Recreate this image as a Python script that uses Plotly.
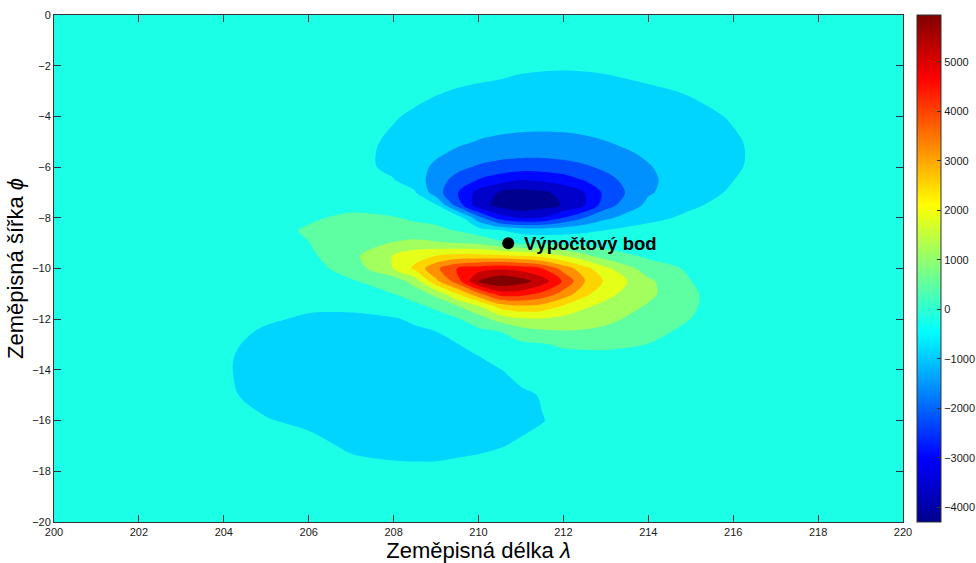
import numpy as np
import plotly.graph_objects as go

# ---------------- data ----------------
lon = [200, 202, 204, 205, 206, 207, 208, 208.5, 209, 209.5, 210, 210.5,
       211, 211.5, 212, 212.5, 213, 214, 215, 216, 217, 218, 220]
lat = [0, -1, -2, -3, -4, -5, -5.5, -6, -6.5, -7, -7.5, -8, -8.5, -9, -9.5,
       -10, -10.5, -11, -11.5, -12, -12.5, -13, -13.5, -14, -15, -16, -17, -18, -20]

# one list per longitude column, values listed along `lat`
z_by_lon = [
    [-3, -4, -5, -7, -8, -9, -9, -9, -9, -8, -8, -8, -8, -8, -10, -12, -15, -20, -25, -30, -35, -40, -42, -44, -43, -38, -30, -22, -8],          # 200
    [-7, -10, -15, -19, -22, -25, -25, -25, -24, -23, -21, -20, -20, -20, -25, -30, -40, -60, -80, -100, -120, -140, -150, -155, -150, -130, -100, -70, -25],  # 202
    [-16, -25, -36, -49, -61, -68, -69, -68, -64, -59, -53, -45, -40, -40, -50, -70, -110, -170, -220, -270, -320, -370, -400, -404, -380, -300, -220, -150, -50],  # 204
    [-23, -37, -56, -79, -100, -113, -115, -114, -106, -97, -86, -70, -50, -40, -50, -80, -164, -222, -299, -404, -514, -588, -633, -650, -599, -430, -236, -129, -40],  # 205
    [-32, -53, -85, -124, -164, -188, -191, -186, -174, -157, -137, 100, 260, 170, 60, -40, -140, -260, -391, -516, -615, -687, -732, -750, -704, -548, -318, -175, -50],  # 206
    [-43, -76, -125, -193, -265, -314, -319, -308, -285, -200, 0, 310, 480, 620, 640, 420, 130, -130, -385, -536, -632, -706, -759, -790, -788, -700, -525, -300, -60],  # 207
    [-56, -103, -179, -292, -426, -526, -557, -553, -440, -300, -60, 215, 450, 860, 1500, 1480, 450, 180, -190, -502, -602, -682, -741, -780, -796, -731, -584, -361, -100],  # 208
    [-63, -117, -210, -354, -514, -672, -762, -843, -750, -400, -150, 110, 357, 1026, 1850, 2250, 1100, 470, 24, -376, -545, -637, -708, -757, -789, -735, -594, -370, -100],  # 208.5
    [-70, -133, -242, -424, -596, -831, -1014, -1222, -1428, -1450, -380, 0, 330, 900, 2120, 3250, 2600, 1000, 300, -117, -468, -571, -652, -710, -760, -720, -589, -370, -100],  # 209
    [-77, -147, -277, -481, -673, -993, -1237, -1557, -1963, -2340, -2000, -70, 150, 830, 2290, 4050, 3700, 2110, 760, 120, -200, -478, -576, -648, -718, -688, -558, -338, -90],  # 209.5
    [-83, -161, -310, -521, -741, -1128, -1407, -1828, -2405, -3250, -3400, -1500, -170, 720, 2320, 4350, 5400, 3227, 1374, 505, 24, -242, -478, -571, -672, -658, -528, -308, -80],  # 210
    [-87, -173, -340, -553, -793, -1211, -1531, -1997, -2720, -3718, -3850, -2700, -430, 344, 2234, 4562, 5880, 4349, 2320, 1039, 170, -59, -279, -476, -604, -604, -476, -265, -70],  # 210.5
    [-91, -182, -400, -575, -829, -1259, -1597, -2087, -3000, -3890, -4122, -3100, -670, 118, 2110, 4422, 5600, 4319, 2608, 1374, 505, 71, -117, -305, -534, -548, -405, -222, -60],  # 211
    [-93, -188, -418, -588, -846, -1270, -1603, -2082, -2891, -3769, -3919, -3000, -726, 42, 1893, 4040, 5000, 3868, 2491, 1395, 697, 130, -60, -200, -430, -470, -350, -200, -55],  # 211.5
    [-94, -190, -425, -591, -844, -1246, -1554, -1987, -2675, -3500, -3620, -2360, -660, -19, 1470, 3132, 3950, 3131, 2014, 1269, 776, 283, -40, -200, -340, -360, -280, -180, -50],  # 212
    [-93, -188, -418, -584, -824, -1189, -1459, -1823, -2330, -3017, -3060, -1740, -563, -61, 985, 2350, 2800, 2300, 1546, 1127, 750, 373, -80, -180, -260, -270, -220, -150, -40],  # 212.5
    [-91, -182, -400, -568, -789, -1107, -1329, -1609, -1935, -2203, -1997, -1222, -440, -100, 505, 1600, 2000, 1650, 1283, 978, 672, 367, -60, -150, -200, -200, -160, -110, -30],  # 213
    [-83, -161, -310, -513, -687, -898, -1017, -1137, -1214, -1174, -932, -559, -320, -126, 68, 504, 950, 980, 750, 561, 373, 170, -40, -100, -130, -130, -100, -70, -20],  # 214
    [-70, -133, -242, -424, -562, -684, -731, -753, -732, -650, -508, -380, -260, -150, -30, 90, 190, 250, 240, 180, 20, -40, -60, -70, -80, -80, -60, -40, -10],  # 215
    [-56, -103, -179, -292, -426, -499, -510, -501, -462, -399, -332, -270, -220, -170, -130, -100, -90, -80, -80, -80, -80, -70, -60, -55, -50, -45, -35, -25, -10],  # 216
    [-43, -76, -125, -193, -265, -314, -319, -308, -285, -252, -216, -180, -150, -120, -100, -80, -65, -55, -50, -45, -40, -35, -30, -28, -25, -20, -15, -10, -5],  # 217
    [-32, -53, -85, -124, -164, -188, -191, -186, -174, -157, -137, -115, -95, -80, -65, -55, -45, -38, -33, -29, -25, -22, -20, -18, -15, -12, -10, -7, -3],  # 218
    [-16, -25, -36, -49, -61, -68, -69, -68, -64, -59, -53, -45, -38, -32, -27, -23, -19, -16, -14, -12, -10, -9, -8, -7, -6, -5, -4, -3, -1],  # 220
]

point_lon = [210.7]
point_lat = [-9.0]
point_label = "Výpočtový bod"

x_ticks = [200, 202, 204, 206, 208, 210, 212, 214, 216, 218, 220]
y_ticks = [0, -2, -4, -6, -8, -10, -12, -14, -16, -18, -20]
cbar_ticks = [-4000, -3000, -2000, -1000, 0, 1000, 2000, 3000, 4000, 5000]
c_min, c_max = -4300, 5950

# ---------------- figure ----------------
z = np.array(z_by_lon, dtype=float).T          # rows = lat, cols = lon
lat_asc = lat[::-1]
z_asc = z[::-1, :]

n_bands = 16
step = (c_max - c_min) / n_bands

jet = [[0.0, "rgb(0,0,143)"], [0.125, "rgb(0,0,255)"], [0.375, "rgb(0,255,255)"],
       [0.625, "rgb(255,255,0)"], [0.875, "rgb(255,0,0)"], [1.0, "rgb(128,0,0)"]]

fig = go.Figure()
fig.add_trace(go.Contour(
    x=lon, y=lat_asc, z=z_asc,
    colorscale=jet, autocontour=False,
    contours=dict(start=c_min + step, end=c_max - step, size=step,
                  coloring="fill", showlines=False),
    line=dict(width=0, smoothing=0.9),
    showscale=False, hoverinfo="skip",
))

# continuous colour bar (like MATLAB colorbar)
fig.add_trace(go.Scatter(
    x=[None], y=[None], mode="markers", showlegend=False, hoverinfo="skip",
    marker=dict(colorscale=jet, cmin=c_min, cmax=c_max, color=[0], showscale=True,
                colorbar=dict(x=1.0165, xanchor="left", y=0.5, yanchor="middle",
                              len=1, lenmode="fraction", thickness=24,
                              xpad=0, ypad=0, outlinewidth=1, outlinecolor="#333",
                              tickvals=cbar_ticks, ticks="inside", ticklen=4,
                              tickcolor="#333",
                              tickfont=dict(size=11, color="#1a1a1a"))),
))

fig.add_trace(go.Scatter(
    x=point_lon, y=point_lat, mode="markers", showlegend=False, hoverinfo="skip",
    marker=dict(size=12, color="black"),
))
fig.add_annotation(x=point_lon[0], y=point_lat[0], text="<b>" + point_label + "</b>",
                   showarrow=False, xanchor="left", yanchor="middle", xshift=14,
                   font=dict(size=18.5, color="black"))

axis_common = dict(ticks="inside", ticklen=7, tickcolor="#333", showline=True,
                   linecolor="#333", linewidth=1, mirror="ticks", showgrid=False,
                   zeroline=False, tickfont=dict(size=11, color="#1a1a1a"))

fig.update_xaxes(range=[200, 220], tickvals=x_ticks,
                 title=dict(text="Zeměpisná délka <i>λ</i>", font=dict(size=22, color="black"),
                            standoff=0), **axis_common)
fig.update_yaxes(range=[-20, 0], tickvals=y_ticks,
                 title=dict(text="Zeměpisná šířka <i>ϕ</i>", font=dict(size=22, color="black"),
                            standoff=2), **axis_common)

fig.update_layout(width=976, height=563,
                  margin=dict(l=54, r=73, t=15, b=41, autoexpand=False),
                  paper_bgcolor="white", plot_bgcolor="white", showlegend=False,
                  font=dict(family="Liberation Sans, Arial, sans-serif", size=11))

# remove the default page margin so the 976x563 figure fills the window exactly
fig.write_html("out.html", config={"displayModeBar": False},
               post_script="document.body.style.margin='0';document.body.style.overflow='hidden';")
